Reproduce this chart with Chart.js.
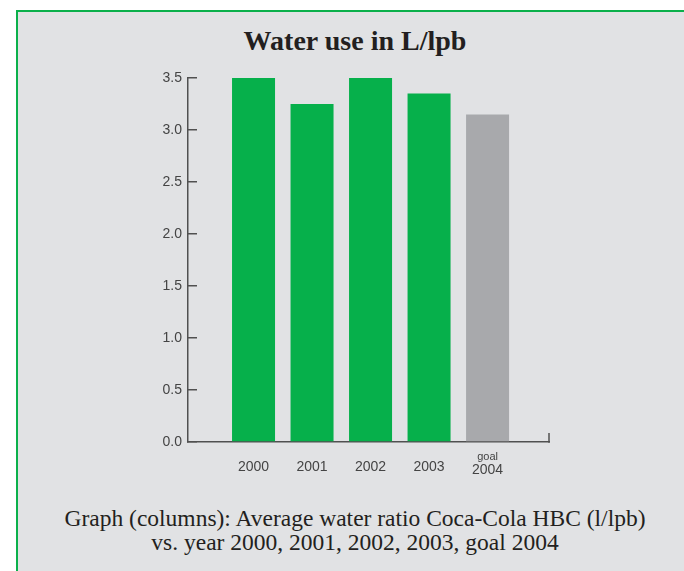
<!DOCTYPE html>
<html>
<head>
<meta charset="utf-8">
<script src="https://cdn.jsdelivr.net/npm/chart.js@4"></script>
<style>
  html, body { margin: 0; padding: 0; background: #ffffff; width: 684px; height: 571px; overflow: hidden; }
  #panel { position: absolute; left: 16px; top: 10px; width: 668px; height: 561px; box-sizing: border-box;
           border-top: 2px solid #0bb04b; border-left: 2px solid #0bb04b; background: #e1e2e4; }
  #title { position: absolute; left: 155px; top: 27px; width: 400px; text-align: center;
           font-family: "Liberation Serif", "DejaVu Serif", serif; font-weight: bold; font-size: 28px; line-height: 28px; color: #231f20; white-space: nowrap; }
  #caption { position: absolute; left: 5px; top: 506px; width: 700px; text-align: center;
           font-family: "Liberation Serif", "DejaVu Serif", serif; font-size: 23.5px; line-height: 24px; color: #231f20; }
  #c { position: absolute; left: 0; top: 0; }
</style>
</head>
<body>
<div id="panel"></div>
<div id="title">Water use in L/lpb</div>
<div id="caption">Graph (columns): Average water ratio Coca-Cola HBC (l/lpb)<br>vs. year 2000, 2001, 2002, 2003, goal 2004</div>
<canvas id="c" width="684" height="571"></canvas>
<script>
// ---- data ----
const categories = ['2000', '2001', '2002', '2003', 'goal 2004'];
const waterUse = [3.5, 3.25, 3.5, 3.35, 3.15];
const yMin = 0;
const yMax = 3.5;
const yStep = 0.5;

// ---- styles ----
const GREEN = '#06b04b';
const GREY = '#a8a9ac';
const AXIS = '#505050';
const LABEL = '#444444';

const xLabelPlugin = {
  id: 'xLabels',
  afterDraw(chart) {
    const ctx = chart.ctx;
    const xs = chart.scales.x;
    const bottom = chart.chartArea.bottom;
    ctx.save();
    ctx.fillStyle = LABEL;
    ctx.textAlign = 'center';
    ctx.textBaseline = 'alphabetic';
    categories.forEach((lab, i) => {
      const px = xs.getPixelForValue(i);
      if (lab.startsWith('goal ')) {
        ctx.font = '11px "Liberation Sans", Arial, sans-serif';
        ctx.fillText('goal', px, bottom + 18);
        ctx.font = '14px "Liberation Sans", Arial, sans-serif';
        ctx.fillText(lab.slice(5), px, bottom + 32);
      } else {
        ctx.font = '14px "Liberation Sans", Arial, sans-serif';
        ctx.fillText(lab, px, bottom + 29);
      }
    });
    // small upward tick at right end of x axis
    ctx.strokeStyle = AXIS;
    ctx.lineWidth = 1.5;
    ctx.beginPath();
    ctx.moveTo(chart.chartArea.right, bottom + 0.75);
    ctx.lineTo(chart.chartArea.right, bottom - 9);
    ctx.stroke();
    ctx.restore();
  }
};

new Chart(document.getElementById('c'), {
  type: 'bar',
  data: {
    datasets: [{
      data: waterUse.map((v, i) => ({ x: i, y: v })),
      backgroundColor: categories.map(c => c.startsWith('goal') ? GREY : GREEN),
      borderWidth: 0,
      barPercentage: 0.735,
      categoryPercentage: 1.0
    }]
  },
  options: {
    responsive: false,
    devicePixelRatio: 1,
    animation: false,
    layout: { padding: { top: 78, right: 135, left: 0, bottom: 0 } },
    plugins: { legend: { display: false }, tooltip: { enabled: false }, title: { display: false } },
    scales: {
      x: {
        type: 'linear',
        offset: false,
        min: -1.12,
        max: 5.05,
        grid: { display: false, drawTicks: false, offset: false },
        border: { display: true, color: AXIS, width: 1.5 },
        ticks: { display: false },
        afterFit: s => { s.height = 129; }
      },
      y: {
        min: yMin,
        max: yMax,
        grid: { drawOnChartArea: false, drawTicks: true, tickLength: -9, color: AXIS, lineWidth: 1.5 },
        border: { display: true, color: AXIS, width: 1.5 },
        ticks: {
          stepSize: yStep,
          padding: 15,
          color: LABEL,
          font: { family: '"Liberation Sans", Arial, sans-serif', size: 14 },
          callback: v => Number(v).toFixed(1)
        },
        afterFit: s => { s.width = 188; }
      }
    }
  },
  plugins: [xLabelPlugin]
});
</script>
</body>
</html>
